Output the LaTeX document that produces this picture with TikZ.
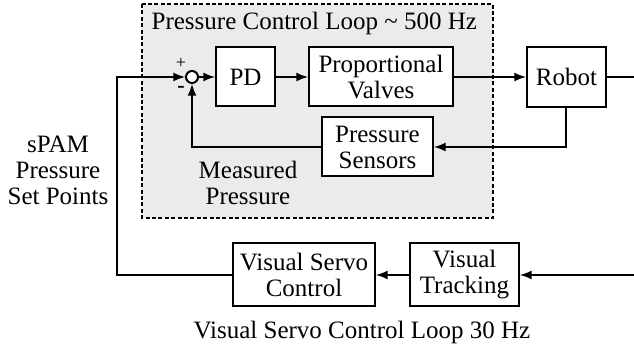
\documentclass[tikz,border=0pt]{standalone}
\usepackage{fontspec}
\setmainfont{Liberation Serif}
\usepackage{xcolor}
\usetikzlibrary{calc}

\begin{document}
\begin{tikzpicture}[x=.5pt, y=-.5pt, line width=1pt,
        font=\fontsize{12.5}{13}\selectfont,
        blk/.style={draw, fill=white, align=center, inner sep=1pt},
        sumnode/.style={draw, circle, fill=white, minimum size=6pt, inner sep=0pt}]
    \useasboundingbox (0,0) rectangle (634,351);
    % pressure loop background
    \draw[dash pattern=on 2pt off 1.2pt, line width=.8pt, fill=gray!16] (142,4) rectangle (493,218);
    \node[anchor=west] (title) at (144,23) {Pressure Control Loop \textasciitilde\ 500 Hz};

    \node[sumnode] (sum) at (192,77) {};
    \node[blk, minimum width=29.5pt, minimum height=29.5pt] (pd) at (245.5,77) {PD};
    \node[blk, minimum width=72pt, minimum height=29.5pt] (valves) at (381,77) {Proportional\\Valves};
    \node[blk, minimum width=39.5pt, minimum height=30pt] (robot) at (566.5,77) {Robot};
    \node[blk, minimum width=55.5pt, minimum height=29.5pt] (sensors) at (377.5,147) {Pressure\\Sensors};
    \node[align=center] (meas) at (248,183) {Measured\\Pressure};

    \node[blk, minimum width=71pt, minimum height=31.5pt] (vsc) at (304,275) {Visual Servo\\Control};
    \node[blk, minimum width=54.5pt, minimum height=31.5pt] (vt) at (464.5,275) {Visual\\Tracking};
    \node (caption) at (362,332) {Visual Servo Control Loop 30 Hz};
    \node[align=center] (setpts) at (58,170) {sPAM\\Pressure\\Set Points};

    \node[font=\fontsize{9}{9}\selectfont] (plus) at (181,63) {+};
    \node[font=\fontsize{11}{11}\selectfont\bfseries] (minus) at (181,89) {-};

    \coordinate (sp) at (117,77);
    \coordinate (out) at (634,77);
    \coordinate (cam) at (634,275);

    \draw[-latex] (vsc.west) -| (sp) -- (sum.west);
    \draw[-latex] (sum) -- (pd);
    \draw[-latex] (pd) -- (valves);
    \draw[-latex] (valves) -- (robot);
    \draw (robot.east) -- (out);
    \draw[-latex] (robot.south) |- (sensors.east);
    \draw[-latex] (sensors.west) -| (sum.south);
    \draw[-latex] (cam) -- (vt.east);
    \draw[-latex] (vt.west) -- (vsc.east);
\end{tikzpicture}
\end{document}
